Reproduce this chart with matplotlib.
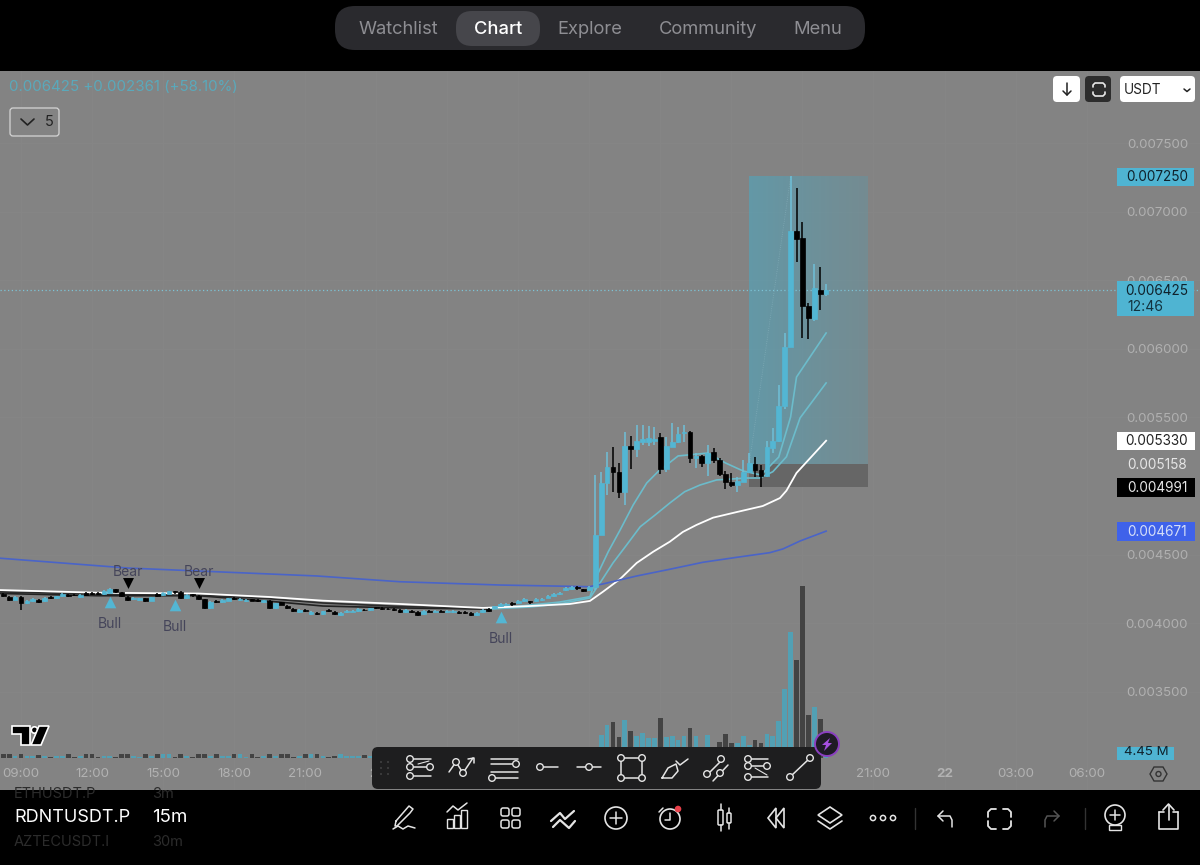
"""
RDNTUSDT.P 15m chart screenshot, candles + MAs + volume + app chrome.
"""
import numpy as np
import matplotlib
matplotlib.use('Agg')
import matplotlib.pyplot as plt
from matplotlib.patches import FancyBboxPatch, Circle, Rectangle, Polygon

plt.rcParams['font.family'] = ['Inter', 'DejaVu Sans']

# Prices are in 1e-6 USDT, candle 0 is 09:00 on the first day
first_candle = -3
opens = [4216, 4190, 4172, 4193, 4147, 4160, 4172, 4160, 4192, 4180, 4199, 4204, 4208, 4191, 4217, 4220, 4220, 4212, 4222, 4247,
         4224, 4190, 4175, 4170, 4180, 4164, 4212, 4203, 4216, 4231, 4229, 4181, 4212, 4198, 4173, 4108, 4165, 4153, 4165, 4185,
         4167, 4158, 4173, 4168, 4155, 4161, 4108, 4152, 4128, 4104, 4082, 4096, 4068, 4074, 4066, 4095, 4084, 4058, 4078, 4084,
         4090, 4099, 4097, 4116, 4112, 4106, 4104, 4098, 4078, 4088, 4081, 4068, 4092, 4084, 4091, 4079, 4079, 4083, 4083, 4075,
         4057, 4079, 4102, 4108, 4126, 4131, 4146, 4150, 4163, 4158, 4163, 4167, 4187, 4199, 4211, 4241, 4246, 4263, 4247, 4242,
         4264, 4643, 5019, 5140, 5104, 4958, 5291, 5267, 5322, 5322, 5330, 5354, 5121, 5286, 5322, 5383, 5391, 5201, 5218, 5170,
         5245, 5189, 5087, 5029, 5010, 5031, 5104, 5160, 5116, 5075, 5274, 5330, 5583, 6010, 6861, 6805, 6312, 6217, 6430, 6400]
closes = [4195, 4172, 4190, 4144, 4165, 4178, 4156, 4187, 4184, 4196, 4211, 4196, 4202, 4209, 4207, 4214, 4214, 4236, 4252, 4227,
          4200, 4172, 4187, 4182, 4158, 4188, 4198, 4221, 4232, 4227, 4181, 4205, 4208, 4178, 4108, 4156, 4157, 4169, 4181, 4177,
          4179, 4170, 4165, 4160, 4167, 4108, 4144, 4136, 4112, 4088, 4094, 4086, 4084, 4068, 4086, 4087, 4068, 4076, 4090, 4092,
          4102, 4093, 4109, 4110, 4104, 4100, 4098, 4078, 4098, 4080, 4061, 4090, 4084, 4092, 4085, 4089, 4089, 4075, 4075, 4059,
          4077, 4097, 4090, 4122, 4138, 4143, 4142, 4162, 4175, 4154, 4175, 4179, 4199, 4211, 4223, 4257, 4262, 4255, 4235, 4266,
          4643, 5022, 5140, 5104, 4958, 5291, 5267, 5327, 5339, 5352, 5339, 5121, 5291, 5322, 5376, 5391, 5201, 5218, 5165, 5242,
          5189, 5087, 5031, 5010, 5038, 5104, 5165, 5116, 5075, 5281, 5330, 5583, 6010, 6861, 6800, 6312, 6222, 6440, 6397, 6425]
highs = [4222, 4196, 4196, 4197, 4170, 4184, 4178, 4192, 4197, 4201, 4218, 4211, 4214, 4214, 4224, 4226, 4226, 4242, 4258, 4252,
         4230, 4195, 4193, 4187, 4185, 4194, 4218, 4226, 4238, 4233, 4236, 4210, 4214, 4204, 4178, 4160, 4170, 4174, 4186, 4190,
         4184, 4175, 4178, 4173, 4172, 4166, 4149, 4157, 4133, 4110, 4100, 4102, 4090, 4080, 4092, 4100, 4090, 4082, 4096, 4098,
         4108, 4105, 4114, 4121, 4118, 4112, 4110, 4104, 4104, 4094, 4087, 4096, 4098, 4098, 4096, 4095, 4095, 4089, 4089, 4081,
         4083, 4103, 4108, 4128, 4144, 4150, 4152, 4168, 4181, 4164, 4181, 4185, 4205, 4217, 4229, 4263, 4268, 4268, 4252, 4272,
         5080, 5104, 5250, 5286, 5170, 5395, 5364, 5444, 5444, 5437, 5427, 5388, 5359, 5456, 5432, 5444, 5403, 5242, 5225, 5298,
         5274, 5201, 5109, 5096, 5067, 5189, 5238, 5213, 5153, 5330, 5420, 5736, 6112, 7259, 7170, 6921, 6336, 6615, 6593, 6472]
lows = [4188, 4165, 4166, 4096, 4140, 4154, 4150, 4154, 4178, 4174, 4193, 4190, 4196, 4185, 4201, 4208, 4208, 4206, 4216, 4221,
        4194, 4160, 4169, 4164, 4152, 4158, 4192, 4197, 4210, 4212, 4175, 4175, 4194, 4172, 4100, 4102, 4150, 4147, 4159, 4171,
        4161, 4152, 4159, 4154, 4149, 4101, 4102, 4130, 4106, 4082, 4076, 4080, 4062, 4062, 4060, 4081, 4060, 4052, 4072, 4078,
        4084, 4087, 4091, 4104, 4098, 4094, 4092, 4072, 4072, 4074, 4054, 4062, 4078, 4078, 4079, 4073, 4073, 4069, 4069, 4053,
        4051, 4073, 4084, 4102, 4120, 4125, 4128, 4144, 4157, 4140, 4157, 4161, 4181, 4193, 4205, 4235, 4240, 4243, 4225, 4236,
        4242, 4740, 4934, 4958, 4909, 4860, 5123, 5213, 5298, 5291, 5298, 5087, 5104, 5281, 5315, 5322, 5165, 5128, 5140, 5072,
        5170, 5075, 4977, 4995, 4958, 5026, 5096, 5063, 4995, 5067, 5238, 5322, 5558, 6010, 6635, 6081, 6069, 6202, 6282, 6387]

# Volume in millions
volumes = [2.2, 2.4, 1.2, 2.6, 1.1, 1.3, 2.0, 1.2, 0.4, 1.2, 1.1, 2.2, 0.4, 1.0, 2.4, 2.6, 0.5, 1.0, 1.1, 0.4,
           2.3, 2.2, 1.1, 0.9, 2.4, 1.0, 2.2, 2.3, 2.4, 0.4, 2.6, 1.1, 0.5, 2.3, 2.8, 1.3, 2.2, 1.1, 1.0, 2.2,
           2.4, 0.4, 2.3, 0.5, 1.1, 2.4, 1.0, 2.2, 2.3, 0.4, 1.0, 2.2, 2.4, 2.5, 1.1, 0.9, 1.0, 2.2, 1.0, 1.2,
           1.5, 2.0, 1.0, 2.0, 2.2, 2.1, 2.0, 2.0, 1.2, 2.1, 2.2, 1.3, 2.0, 1.1, 2.0, 1.0, 1.1, 2.1, 2.2, 2.2,
           1.2, 1.4, 2.2, 1.5, 1.5, 1.6, 2.3, 1.6, 1.8, 2.3, 1.8, 2.0, 2.5, 2.8, 3.2, 3.5, 3.6, 4.0, 4.2, 4.5,
           6.0, 14.6, 21.0, 23.0, 13.4, 24.0, 17.0, 14.0, 16.0, 12.7, 12.7, 25.4, 13.5, 14.0, 11.4, 14.0, 19.0, 14.0, 4.0, 14.6,
           5.0, 10.4, 15.2, 9.5, 9.5, 14.0, 8.0, 11.4, 9.5, 15.2, 14.0, 23.7, 44.0, 80.0, 62.3, 109.5, 27.3, 32.4, 24.8, 4.45]

# Moving averages, read at these candle numbers
blue_x = [-4, 18, 50, 64, 81, 96, 98.3, 104, 109.6, 115.2, 120.9, 126.5, 128.7, 131.6, 136]
blue_ma = [4475, 4402, 4344, 4302, 4278, 4266, 4286, 4344, 4393, 4444, 4480, 4514, 4541, 4599, 4671]
white_x = [-4, 13, 30, 42, 51, 64, 78, 86, 92.7, 96.1, 98.3, 101.2, 104, 106.8, 109.6, 111.8, 114.1, 116.9, 120.9, 125.3,
           128.2, 129.3, 131, 136]
white_ma = [4242, 4222, 4216, 4191, 4164, 4140, 4111, 4125, 4140, 4162, 4229, 4322, 4439, 4521, 4594, 4665, 4716, 4769,
            4810, 4854, 4912, 4966, 5095, 5330]
dark_x = [-4, 13, 30, 42, 51, 64, 79]
dark_fast = [4217, 4200, 4200, 4160, 4125, 4111, 4103]
dark_slow = [4228, 4212, 4205, 4178, 4147, 4122, 4103]
fast_x = [79, 86, 91, 96.1, 97.5, 99.2, 101.2, 103.4, 105.7, 107.6, 111, 116, 119, 122, 125, 128, 130, 131, 136]
fast_ma = [4103, 4132, 4154, 4193, 4366, 4521, 4679, 4861, 5022, 5104, 5219, 5240, 5168, 5109, 5080, 5211, 5503, 5794, 6115]
slow_x = [79, 86, 91, 96.1, 97.8, 100, 102.3, 104.6, 107.1, 109.6, 112.1, 114.7, 117.5, 122.6, 124.8, 127, 129.3, 131.6, 136]
slow_ma = [4103, 4118, 4140, 4184, 4293, 4439, 4570, 4703, 4788, 4876, 4958, 5007, 5044, 5058, 5058, 5104, 5213, 5496, 5751]

# Signals and the long position tool
bear_x = [18, 30]
bear_y = [4293, 4293]
bull_x = [15, 26, 81]
bull_y = [4154, 4132, 4045]
last_price = 6425
target_price = 7250
entry_price = 5158
stop_price = 4991
tool_x = [123, 143.1]

price_ticks = [7500, 7000, 6500, 6000, 5500, 4500, 4000, 3500]
price_labels = ['0.007500', '0.007000', '0.006500', '0.006000', '0.005500', '0.004500', '0.004000', '0.003500']
time_ticks = [0, 12, 24, 36, 48, 60, 72, 84, 96, 108, 120, 132, 144, 156, 168, 180]
time_labels = ['09:00', '12:00', '15:00', '18:00', '21:00', '21', '03:00', '06:00', '09:00', '12:00', '15:00', '18:00',
               '21:00', '22', '03:00', '06:00']

GRAY = '#838383'
TEAL = '#53b6d3'
BAR_BG = '#1e1e1f'
ICON = '#e4e4e4'


def scale(values):
    return np.array(values, dtype=float) * 1e-6


fig = plt.figure(figsize=(12, 8.65), dpi=100, facecolor='black')
rect = [0, 75 / 865, 1, 719 / 865]

# volume pane sits under the price pane, same x
ax_vol = fig.add_axes(rect, facecolor=GRAY, zorder=1)
ax = fig.add_axes(rect, facecolor='none', sharex=ax_vol, zorder=2)

xs = np.arange(first_candle, first_candle + len(closes))
up = np.array(closes) >= np.array(opens)
o, c, h, l = scale(opens), scale(closes), scale(highs), scale(lows)

ax_vol.bar(xs[up], np.array(volumes)[up], width=0.8, color='#52a0b4', linewidth=0)
ax_vol.bar(xs[~up], np.array(volumes)[~up], width=0.8, color='#434343', linewidth=0)
ax_vol.set_ylim(-20.4, 437)
ax_vol.set_yticks([])
ax_vol.set_xticks(time_ticks)
ax_vol.grid(axis='x', color='#868686', lw=0.7)
ax_vol.set_axisbelow(True)
ax_vol.tick_params(axis='x', length=0, labelbottom=False)

# x runs 5.92 px per candle with 09:00 at x=21
ax.set_xlim(-21 / 5.92, (1200 - 21) / 5.92)
ax.set_ylim(0.0075 - (790 - 143) * 7.289e-6, 0.0075 + (143 - 71) * 7.289e-6)

# faint price grid goes behind the volume bars
for tick in price_ticks:
    ax_vol.plot([0, 1], [tick * 1e-6, tick * 1e-6], transform=ax.get_yaxis_transform(), color='#868686', lw=0.7, zorder=0.5)

# long position tool, stronger on the left
target_fill = np.zeros((1, 64, 4))
target_fill[0, :, 0] = np.linspace(0.30, 0.37, 64)
target_fill[0, :, 1] = np.linspace(0.66, 0.60, 64)
target_fill[0, :, 2] = np.linspace(0.76, 0.66, 64)
target_fill[0, :, 3] = np.linspace(0.58, 0.40, 64)
ax.imshow(target_fill, extent=[tool_x[0], tool_x[1], entry_price * 1e-6, target_price * 1e-6], aspect='auto', zorder=1)
ax.add_patch(Rectangle((tool_x[0], stop_price * 1e-6), tool_x[1] - tool_x[0], (entry_price - stop_price) * 1e-6,
                       facecolor='#666666', edgecolor='none', zorder=1))
ax.set_xlim(-21 / 5.92, (1200 - 21) / 5.92)
ax.set_ylim(0.0075 - (790 - 143) * 7.289e-6, 0.0075 + (143 - 71) * 7.289e-6)
ax.plot([tool_x[0], 130], scale([entry_price, target_price]), color='#8fb7c2', lw=0.6, ls=':', alpha=0.6, zorder=2)

ax.axhline(last_price * 1e-6, color='#7cc3d6', lw=0.9, ls=(0, (1, 2)), zorder=2)

# moving averages
ax.plot(dark_x, scale(dark_fast), color='#222222', lw=1.2, zorder=3)
ax.plot(dark_x, scale(dark_slow), color='#2c2c2c', lw=1.2, zorder=3)
ax.plot(fast_x, scale(fast_ma), color='#6cbccb', lw=1.2, zorder=3)
ax.plot(slow_x, scale(slow_ma), color='#6cbccb', lw=1.2, zorder=3)
ax.plot(white_x, scale(white_ma), color='white', lw=1.3, zorder=3)
ax.plot(blue_x, scale(blue_ma), color='#4a64c8', lw=1.2, zorder=3)

# candles
ax.vlines(xs[up], l[up], h[up], color='#6fc0d8', lw=1.1, zorder=4)
ax.vlines(xs[~up], l[~up], h[~up], color='black', lw=1.1, zorder=4)
ax.bar(xs[up], (c - o)[up], bottom=o[up], width=0.8, color=TEAL, edgecolor=TEAL, linewidth=0.5, zorder=5)
ax.bar(xs[~up], (c - o)[~up], bottom=o[~up], width=0.8, color='black', edgecolor='black', linewidth=0.5, zorder=5)

# bull / bear signals
ax.scatter(bear_x, scale(bear_y), marker='v', s=62, color='black', linewidth=0, zorder=6)
ax.scatter(bull_x, scale(bull_y), marker='^', s=70, color=TEAL, linewidth=0, zorder=6)
for bx, by in zip(bear_x, scale(bear_y)):
    ax.annotate('Bear', (bx, by), xytext=(0, 8), textcoords='offset points', ha='center', va='center',
                fontsize=10, color='#45455a', zorder=6)
for bx, by in zip(bull_x, scale(bull_y)):
    ax.annotate('Bull', (bx, by), xytext=(0, -15.5), textcoords='offset points', ha='center', va='center',
                fontsize=10, color='#45455a', zorder=6)

ax.set_xticks(time_ticks)
ax.set_xticklabels(time_labels)
for lbl in ax.get_xticklabels():
    if lbl.get_text() in ('21', '22'):
        lbl.set_fontweight('bold')
ax.tick_params(axis='x', length=0, pad=-15.5, labelsize=9.6, labelcolor='#b2b2b2')
ax.set_yticks(scale(price_ticks))
ax.set_yticklabels(price_labels)
ax.tick_params(axis='y', length=0, left=False, right=False, labelleft=False, labelright=True, pad=-8.5,
               labelsize=9.6, labelcolor='#b0b0b0')
plt.setp(ax.get_yticklabels(), ha='right')
for axis in (ax, ax_vol):
    for spine in axis.spines.values():
        spine.set_visible(False)

# app chrome in pixel coordinates
ui = fig.add_axes([0, 0, 1, 1], facecolor='none', zorder=3)
ui.set_xlim(0, 1200)
ui.set_ylim(865, 0)
ui.axis('off')


def box(x0, y0, x1, y1, color, radius=0, edge='none', lw=0):
    if radius:
        patch = FancyBboxPatch((x0, y0), x1 - x0, y1 - y0, boxstyle='round,pad=0,rounding_size=%g' % radius,
                               facecolor=color, edgecolor=edge, linewidth=lw)
    else:
        patch = Rectangle((x0, y0), x1 - x0, y1 - y0, facecolor=color, edgecolor=edge, linewidth=lw)
    ui.add_patch(patch)


def label(x, y, text, color='white', size=9.6, ha='center', weight='normal'):
    ui.text(x, y + 1, text, color=color, fontsize=size, ha=ha, va='center', fontweight=weight)


def line(xv, yv, color=ICON, lw=1.1):
    ui.plot(xv, yv, color=color, lw=lw, solid_capstyle='round', solid_joinstyle='round')


def node(x, y, r=3.3, bg=BAR_BG, color=ICON):
    ui.add_patch(Circle((x, y), r, facecolor=bg, edgecolor=color, linewidth=1.0, zorder=4))


# top nav
box(335, 6, 865, 50, '#2a2a2e', radius=20)
box(456, 11, 540, 46, '#46464b', radius=16)
label(398, 28, 'Watchlist', '#8e8e93', 13.2)
label(498, 28, 'Chart', 'white', 13.2, weight='medium')
label(590, 28, 'Explore', '#8e8e93', 13.2)
label(708, 28, 'Community', '#8e8e93', 13.2)
label(818, 28, 'Menu', '#8e8e93', 13.2)

label(9, 86, '0.006425 +0.002361 (+58.10%)', '#5aa9bb', 10.8, ha='left')
box(10, 108, 59, 136, GRAY, radius=3, edge='#d5d5d5', lw=0.9)
line([21, 27.5, 34], [119, 125, 119], '#222222', 1.2)
label(49, 121, '5', '#222222', 10.5)

# top right controls
box(1053, 76, 1080, 102, 'white', radius=4)
line([1067, 1067], [83, 95], '#222222', 1.1)
line([1063, 1067, 1071], [91, 95, 91], '#222222', 1.1)
box(1085, 76, 1111, 102, '#2d2d2d', radius=4)
line([1093, 1093, 1095, 1103, 1105, 1105], [87, 85, 83, 83, 85, 87], '#e8e8e8', 1.2)
line([1093, 1093, 1095, 1103, 1105, 1105], [92, 94, 96, 96, 94, 92], '#e8e8e8', 1.2)
box(1120, 76, 1195, 102, 'white', radius=4)
label(1124, 89, 'USDT', '#222222', 9.8, ha='left')
line([1184, 1187, 1190], [89, 91.5, 89], '#222222', 1.1)

# price tags
box(1117, 168, 1194, 186, '#4fb4d2')
label(1157, 176, '0.007250', '#10222c', 9.8)
box(1117, 281, 1194, 316, '#4fb4d2')
label(1157, 290, '0.006425', '#10222c', 9.8)
label(1127, 306, '12:46', '#13333f', 10, ha='left')
box(1117, 432, 1195, 450, 'white')
label(1157, 440, '0.005330', '#222222', 9.8)
label(1157, 464, '0.005158', '#e6e6e6', 9.8)
box(1117, 478, 1195, 497, 'black')
label(1157, 487, '0.004991', '#e6e6e6', 9.8)
box(1117, 522, 1195, 541, '#3f62ea')
label(1157, 531, '0.004671', '#d5def8', 9.8)
box(1117, 747, 1174, 760, '#4fb4d2')
label(1146, 751, '4.45 M', '#10222c', 9.6)

# TradingView logo
ui.add_patch(Polygon([(12, 726), (30, 726), (30, 745), (21, 745), (21, 734), (12, 734)], facecolor='black',
                     edgecolor='white', linewidth=1.2))
ui.add_patch(Circle((34.5, 730), 3.2, facecolor='black', edgecolor='white', linewidth=1.2))
ui.add_patch(Polygon([(39, 726), (49, 726), (41, 745), (31, 745)], facecolor='black', edgecolor='white', linewidth=1.2))

# bottom strip
box(0, 790, 1200, 865, 'black')
label(14, 793, 'ETHUSDT.P', '#2c2c2c', 10.5, ha='left')
label(152, 793, '3m', '#2c2c2c', 10.5, ha='left')
label(14, 817, 'RDNTUSDT.P', 'white', 13, ha='left')
label(152, 817, '15m', 'white', 13.5, ha='left')
label(14, 841, 'AZTECUSDT.I', '#2c2c2c', 10.5, ha='left')
label(152, 841, '30m', '#2c2c2c', 10.5, ha='left')

# pen
line([396, 409, 413, 410, 397, 395, 396], [821, 806, 809, 813, 826, 826, 821])
line([393, 398, 403, 408, 415], [829, 826, 829, 826, 828])
# chart
line([447, 453, 458, 467], [812, 806, 810, 803])
box(447, 819, 453, 828, 'none', edge=ICON, lw=1)
box(454, 815, 460, 828, 'none', edge=ICON, lw=1)
box(461, 810, 467, 828, 'none', edge=ICON, lw=1)
# grid
for gx in (501, 512):
    for gy in (808, 820):
        box(gx, gy, gx + 8, gy + 8, 'none', radius=2, edge=ICON, lw=1.1)
# double chevrons
line([551, 560, 565, 574], [821, 813, 819, 811], lw=1.6)
line([553, 560, 569, 575], [827, 820, 828, 821], lw=1.6)
# add
ui.add_patch(Circle((616, 818), 11, facecolor='none', edgecolor=ICON, linewidth=1.2))
line([610, 622], [818, 818])
line([616, 616], [812, 824])
# alarm
ui.add_patch(Circle((670, 819), 10, facecolor='none', edgecolor=ICON, linewidth=1.2))
line([670, 670, 665], [813, 820, 820])
line([659, 663], [812, 808])
ui.add_patch(Circle((678, 809), 3.3, facecolor='#e8404a', edgecolor='none', zorder=5))
# candles icon
box(718, 810, 723, 825, 'none', radius=1, edge=ICON, lw=1.1)
line([720.5, 720.5], [804, 810])
line([720.5, 720.5], [825, 831])
box(727, 813, 731, 823, 'none', radius=1, edge=ICON, lw=1.1)
line([729, 729], [808, 813])
line([729, 729], [823, 829])
# rewind
ui.add_patch(Polygon([(768, 818), (776, 808), (776, 828)], closed=True, facecolor='none', edgecolor=ICON, linewidth=1.2))
ui.add_patch(Polygon([(776, 818), (784, 808), (784, 828)], closed=True, facecolor='none', edgecolor=ICON, linewidth=1.2))
# layers
ui.add_patch(Polygon([(818, 815), (830, 807), (842, 815), (830, 823)], facecolor='none', edgecolor=ICON, linewidth=1.2))
line([818, 830, 842], [821, 829, 821], lw=1.2)
# more
for dx in (873, 883, 893):
    ui.add_patch(Circle((dx, 818), 2.6, facecolor='none', edgecolor=ICON, linewidth=1.1))
line([915, 915], [808, 829], '#333333', 1)
# undo
line([938, 944, 950, 952, 952], [816, 816, 816, 820, 827])
line([943, 938, 943], [811, 816, 821])
# fullscreen
line([988, 988, 991, 996], [817, 812, 809, 809], lw=1.3)
line([1003, 1008, 1011, 1011], [809, 809, 812, 817], lw=1.3)
line([988, 988, 991, 996], [821, 826, 829, 829], lw=1.3)
line([1003, 1008, 1011, 1011], [829, 829, 826, 821], lw=1.3)
# redo
line([1059, 1053, 1047, 1045, 1045], [816, 816, 816, 820, 827], '#555555')
line([1054, 1059, 1054], [811, 816, 821], '#555555')
line([1085, 1085], [808, 829], '#333333', 1)
# ideas bulb
ui.add_patch(Circle((1115, 815), 10, facecolor='none', edgecolor=ICON, linewidth=1.2))
line([1110, 1120], [815, 815])
line([1115, 1115], [810, 820])
box(1109, 825, 1121, 830, 'none', edge=ICON, lw=1)
# share
line([1159, 1159, 1178, 1178], [812, 829, 829, 812], lw=1.2)
line([1159, 1164], [812, 812], lw=1.2)
line([1173, 1178], [812, 812], lw=1.2)
line([1168.5, 1168.5], [820, 805], lw=1.2)
line([1163, 1168.5, 1174], [810, 804, 810], lw=1.2)

# axis settings hexagon
ui.add_patch(Polygon([(1150, 774), (1154, 767), (1163, 767), (1167, 774), (1163, 781), (1154, 781)], facecolor='none',
                     edgecolor='#333333', linewidth=1))
ui.add_patch(Circle((1158.5, 774), 2.5, facecolor='none', edgecolor='#333333', linewidth=1))

# drawing toolbar
box(372, 747, 821, 789, BAR_BG, radius=6)
for tx in (381, 388):
    for ty in (762, 768, 774):
        ui.add_patch(Circle((tx, ty), 0.8, facecolor='#555555', edgecolor='none'))
# fib
line([411, 431], [759, 759])
line([411, 431], [767, 767])
line([411, 431], [776, 776])
line([418, 429], [764, 761], lw=0.8)
node(410, 759)
node(410, 767)
node(430, 767)
node(410, 776)
# path
line([449, 456, 463, 473], [772, 762, 773, 758])
line([468, 474, 474], [759, 758, 763])
node(456, 762)
node(463, 773)
# horizontal lines
for hy in (759, 764, 772, 778):
    line([491, 518], [hy, hy])
node(516, 764)
node(492, 778)
# ray and segment
line([541, 558], [767, 767])
node(540, 767)
line([577, 601], [767, 767])
node(589, 767)
# rectangle
box(621, 758, 642, 778, 'none', edge=ICON, lw=1.1)
for rx, ry in ((621, 758), (642, 758), (621, 778), (642, 778)):
    node(rx, ry)
# brush
line([662, 668, 676, 678, 672, 662], [778, 768, 764, 771, 778, 778])
line([676, 680, 688], [761, 765, 759])
# parallel
line([708, 722], [774, 760])
line([713, 728], [781, 765])
node(707, 774)
node(721, 759)
node(720, 773)
# fib 2
line([749, 768], [759, 759])
line([749, 768], [766, 766])
line([749, 768], [777, 777])
line([755, 767], [768, 775], lw=0.8)
node(748, 759)
node(748, 766)
node(767, 766)
node(748, 777)
# trend line
line([790, 810], [777, 758])
node(790, 777)
node(810, 758)

# lightning badge
ui.add_patch(Circle((827, 744), 12, facecolor='#1f1b26', edgecolor='#8a3fc0', linewidth=1.4, zorder=5))
ui.add_patch(Polygon([(830, 738), (822, 745), (826, 745), (824, 751), (832, 743), (828, 743)], facecolor='#a64fe0',
                     edgecolor='none', zorder=6))

fig.savefig('out.png', dpi=100, facecolor='black')
